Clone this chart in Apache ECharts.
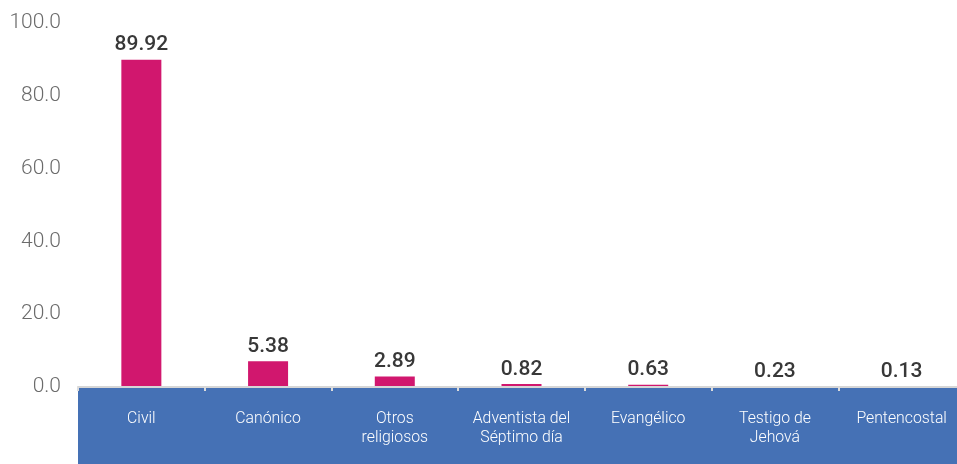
<!DOCTYPE html>
<html>
<head>
<meta charset="utf-8">
<script src="https://cdn.jsdelivr.net/npm/echarts@6/dist/echarts.min.js"></script>
<style>
html,body{margin:0;padding:0;background:#fff;overflow:hidden;width:957px;height:464px;}
#chart{width:966px;height:464px;}
</style>
</head>
<body>
<div id="chart"></div>
<script>
const categories = ["Civil", "Canónico", "Otros\nreligiosos", "Adventista del\nSéptimo día", "Evangélico", "Testigo de\nJehová", "Pentencostal"];
const barValues = [89.92, 7.1, 2.89, 0.82, 0.63, 0.23, 0.13];
const valueLabels = ["89.92", "5.38", "2.89", "0.82", "0.63", "0.23", "0.13"];
const yTicks = [0, 20, 40, 60, 80, 100];

const chart = echarts.init(document.getElementById('chart'), null, {renderer: 'canvas'});
chart.setOption({
  animation: false,
  backgroundColor: '#ffffff',
  textStyle: {fontFamily: 'Roboto'},
  grid: {left: 78, right: 1, top: 23, bottom: 77, containLabel: false},
  graphic: [{
    type: 'rect', z: -10, silent: true,
    shape: {x: 78, y: 388, width: 888, height: 76},
    style: {fill: '#4571b5'}
  }],
  xAxis: {
    type: 'category',
    data: categories,
    axisLine: {show: true, lineStyle: {color: '#d6d6d6', width: 2}},
    axisTick: {show: true, length: 4, lineStyle: {color: '#dcdcdc', width: 2}},
    axisLabel: {
      color: '#ffffff', fontSize: 15.8, fontWeight: 300, fontFamily: 'Roboto',
      margin: 23, lineHeight: 19, interval: 0
    },
    z: 5
  },
  yAxis: {
    type: 'value',
    min: yTicks[0], max: yTicks[yTicks.length - 1], interval: 20,
    axisLine: {show: false},
    axisTick: {show: false},
    splitLine: {show: false},
    axisLabel: {
      color: '#6b6b6b', fontSize: 21, fontWeight: 300, fontFamily: 'Roboto', margin: 17,
      padding: [3, 0, 0, 0],
      formatter: v => v.toFixed(1)
    }
  },
  series: [{
    type: 'bar',
    data: barValues,
    barWidth: 40,
    itemStyle: {color: '#d1176e'},
    label: {
      show: true, position: 'top', distance: 4,
      color: '#383838', fontSize: 21, fontWeight: 500, fontFamily: 'Roboto',
      formatter: p => valueLabels[p.dataIndex]
    }
  }]
});
</script>
</body>
</html>
